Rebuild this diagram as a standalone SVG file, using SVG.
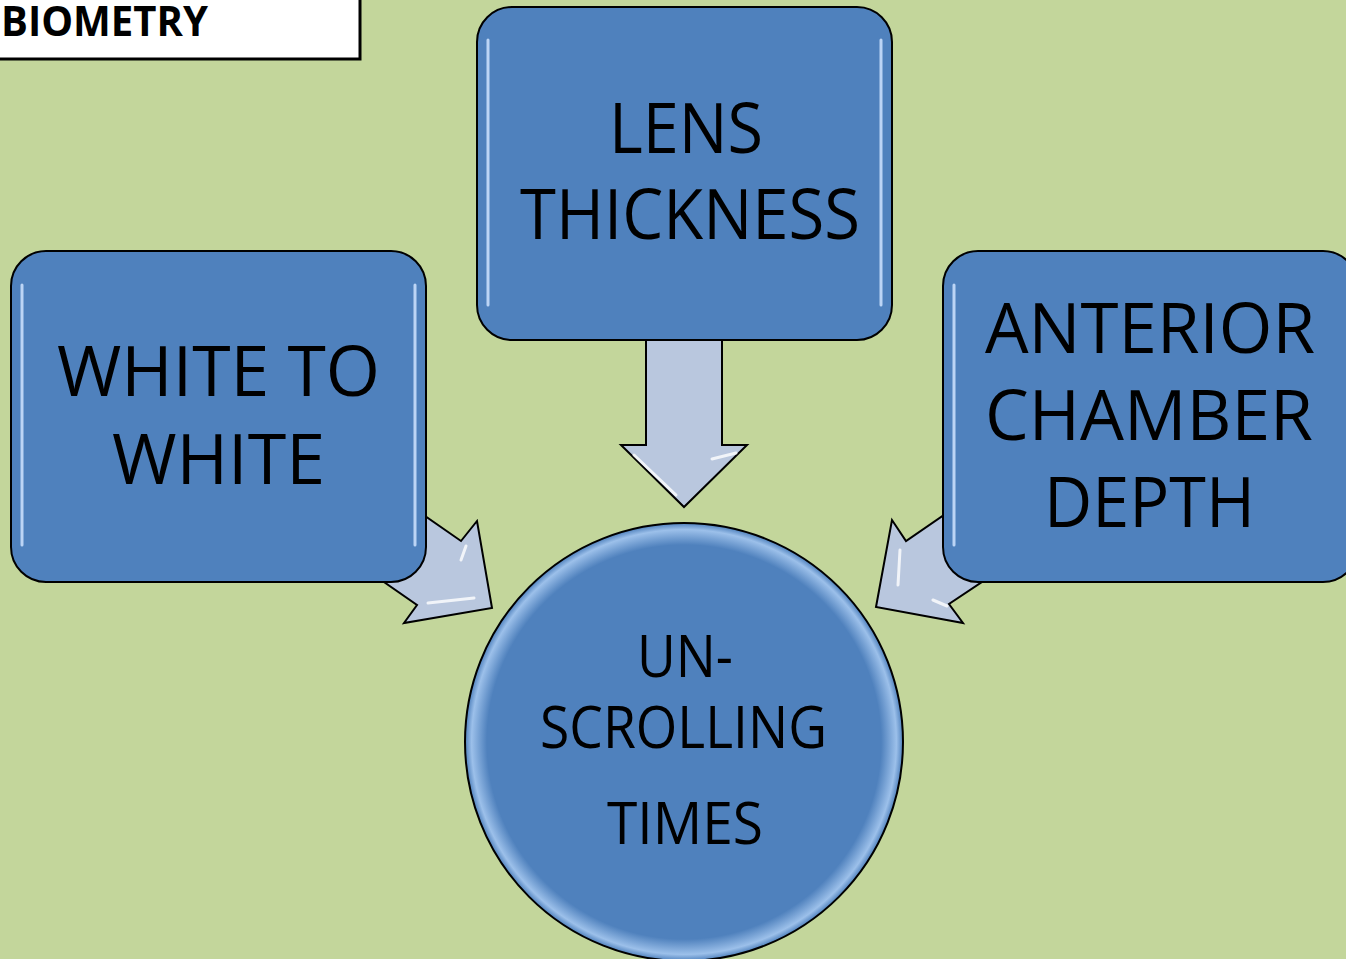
<svg xmlns="http://www.w3.org/2000/svg" width="1346" height="959" viewBox="0 0 1346 959">
<defs>
<style>
.node{fill:#4f81bd;stroke:#000;stroke-width:2}
.arr{fill:#b9c7de;stroke:#000;stroke-width:2;stroke-linejoin:miter}
.t{font-family:"Open Sans","Liberation Sans",sans-serif;fill:#000;text-anchor:start}
.big{font-size:70px}
.mid{font-size:58px}
.hl{fill:none;stroke:#cfe3ff;stroke-width:3;stroke-linecap:round;opacity:0.85}
.hla{fill:none;stroke:#ffffff;stroke-width:3;stroke-linecap:round;opacity:0.8}
</style>
<radialGradient id="cg" cx="0.5" cy="0.5" r="0.5">
<stop offset="0.9" stop-color="#4f81bd"/>
<stop offset="0.97" stop-color="#9cc0ea"/>
<stop offset="1" stop-color="#4f81bd"/>
</radialGradient>
</defs>
<rect x="0" y="0" width="1346" height="959" fill="#c3d69b"/>

<g id="title">
<rect x="-5" y="-5" width="365" height="64" fill="#fff" stroke="#000" stroke-width="3"/>
<text class="t" x="1" y="36" font-size="41" font-weight="bold" textLength="207" lengthAdjust="spacingAndGlyphs">BIOMETRY</text>
</g>

<g id="connectors">
<polygon class="arr" points="646,338 722,338 722,445 747,445 684,507 621,445 646,445"/>
<polyline class="hla" points="634,455 676,495"/>
<polyline class="hla" points="712,459 736,453"/>
<polygon class="arr" points="379,484 461,541 477,521 492,608 404,623 417,605 335,548"/>
<polyline class="hla" points="466,546 461,560"/>
<polyline class="hla" points="428,603 474,598"/>
<polygon class="arr" points="989,484 906,541 892,520 876,607 963,623 949,604 1033,548"/>
<polyline class="hla" points="900,550 898,585"/>
<polyline class="hla" points="933,600 947,606"/>
</g>

<g id="lens">
<rect class="node" x="477" y="7" width="415" height="333" rx="35"/>
<line class="hl" x1="488" y1="40" x2="488" y2="305"/>
<line class="hl" x1="881" y1="40" x2="881" y2="305"/>
<text class="t big" x="609" y="153" textLength="154" lengthAdjust="spacingAndGlyphs">LENS</text>
<text class="t big" x="520" y="239" textLength="340" lengthAdjust="spacingAndGlyphs">THICKNESS</text>
</g>

<g id="white">
<rect class="node" x="11" y="251" width="415" height="331" rx="35"/>
<line class="hl" x1="22" y1="285" x2="22" y2="545"/>
<line class="hl" x1="415" y1="285" x2="415" y2="545"/>
<text class="t big" x="57" y="396" textLength="323" lengthAdjust="spacingAndGlyphs">WHITE TO</text>
<text class="t big" x="112" y="484" textLength="213" lengthAdjust="spacingAndGlyphs">WHITE</text>
</g>

<g id="anterior">
<rect class="node" x="943" y="251" width="415" height="331" rx="35"/>
<line class="hl" x1="954" y1="285" x2="954" y2="545"/>
<text class="t big" x="985" y="353" textLength="330" lengthAdjust="spacingAndGlyphs">ANTERIOR</text>
<text class="t big" x="985" y="440" textLength="328" lengthAdjust="spacingAndGlyphs">CHAMBER</text>
<text class="t big" x="1044" y="527" textLength="211" lengthAdjust="spacingAndGlyphs">DEPTH</text>
</g>

<g id="unscrolling">
<circle cx="684" cy="742" r="219" fill="url(#cg)" stroke="#000" stroke-width="2"/>
<text class="t mid" x="637" y="677" textLength="96" lengthAdjust="spacingAndGlyphs">UN-</text>
<text class="t mid" x="540" y="748" textLength="287" lengthAdjust="spacingAndGlyphs">SCROLLING</text>
<text class="t mid" x="607" y="844" textLength="156" lengthAdjust="spacingAndGlyphs">TIMES</text>
</g>
</svg>
